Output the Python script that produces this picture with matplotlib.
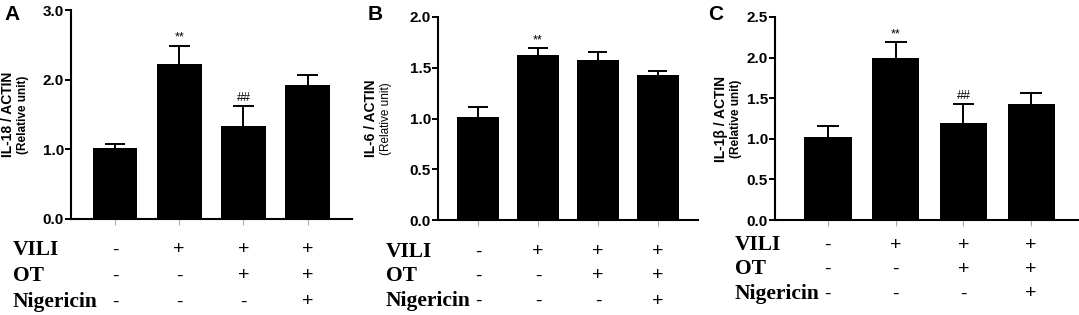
import matplotlib
matplotlib.use('Agg')
from matplotlib import pyplot as plt
from matplotlib.transforms import blended_transform_factory

# group conditions shown under each bar
vili = ['-', '+', '+', '+']
ot = ['-', '-', '+', '+']
nigericin = ['-', '-', '-', '+']
row_names = ['VILI', 'OT', 'Nigericin']

# panel A: IL-18
il18_mean = [1.02, 2.23, 1.34, 1.92]
il18_sem = [0.06, 0.26, 0.28, 0.14]
il18_marks = ['', '**', '##', '']

# panel B: IL-6
il6_mean = [1.01, 1.63, 1.58, 1.43]
il6_sem = [0.10, 0.06, 0.08, 0.04]
il6_marks = ['', '**', '', '']

# panel C: IL-1beta
il1b_mean = [1.02, 2.00, 1.20, 1.43]
il1b_sem = [0.14, 0.19, 0.23, 0.13]
il1b_marks = ['', '**', '##', '']

W, H = 1079, 315
fig = plt.figure(figsize=(W / 100, H / 100), dpi=100)
sans = 'Liberation Sans'
serif = 'Liberation Serif'


def fx(px):
    return px / W


def fy(py):
    return 1 - py / H


def panel(box, means, sems, marks, ymax, step, xlim, letter, letter_xy,
          label, label_x, weights, row_y, row_x):
    left, top, right, bottom = box
    ax = fig.add_axes([fx(left), fy(bottom), fx(right - left), fy(top) - fy(bottom)])
    x = list(range(len(means)))
    tops = [m + s for m, s in zip(means, sems)]
    # upper-only error bars, GraphPad style
    ax.vlines(x, means, tops, color='black', lw=1.4, zorder=1)
    ax.hlines(tops, [xi - 0.16 for xi in x], [xi + 0.16 for xi in x], color='black',
              lw=1.4, zorder=1)
    ax.bar(x, means, width=0.7, color='black', zorder=2)
    for xi, t, mk in zip(x, tops, marks):
        if mk:
            ax.annotate(mk, (xi, t), xytext=(0, 1.5), textcoords='offset points',
                        ha='center', va='bottom', fontsize=9, family=sans)
    ax.set_xlim(*xlim)
    ax.set_ylim(0, ymax)
    ticks = [round(i * step, 2) for i in range(int(round(ymax / step)) + 1)]
    ax.set_yticks(ticks)
    ax.set_yticklabels([f'{t:.1f}' for t in ticks], fontsize=11, fontweight='bold', family=sans)
    ax.set_xticks(x)
    ax.set_xticklabels([])
    for s in ['top', 'right']:
        ax.spines[s].set_visible(False)
    for s in ['left', 'bottom']:
        ax.spines[s].set_linewidth(1.5)
    ax.tick_params(axis='y', length=4, width=1.4, pad=1)
    ax.tick_params(axis='x', length=4, width=0.8, color='#aaaaaa')

    fig.text(fx(letter_xy[0]), fy(letter_xy[1]), letter, fontsize=15, fontweight='bold',
             family=sans, ha='left', va='center')
    cy = fy((top + bottom) / 2)
    fig.text(fx(label_x[0]), cy, label, rotation=90, fontsize=10, fontweight=weights[0],
             family=sans, ha='center', va='center')
    fig.text(fx(label_x[1]), cy, '(Relative unit)', rotation=90, fontsize=8.5,
             fontweight=weights[1], family=sans, ha='center', va='center')

    tr = blended_transform_factory(ax.transData, fig.transFigure)
    for name, signs, py in zip(row_names, [vili, ot, nigericin], row_y):
        fig.text(fx(row_x), fy(py), name, fontsize=15.5, fontweight='bold', family=serif,
                 ha='left', va='center')
        for xi, sg in zip(x, signs):
            ax.text(xi, fy(py), sg, transform=tr, fontsize=14, family=sans,
                    ha='center', va='center')
    return ax


panel((71, 10, 352, 219), il18_mean, il18_sem, il18_marks, 3.0, 1.0, (-0.685, 3.69),
      'A', (4, 15), 'IL-18 / ACTIN', (8, 23), ('bold', 'bold'), (250, 276, 302), 13)
panel((438, 17, 698, 220), il6_mean, il6_sem, il6_marks, 2.0, 0.5, (-0.667, 3.67),
      'B', (368, 15), 'IL-6 / ACTIN', (371, 386), ('bold', 'normal'), (252, 276, 301), 386)
panel((775, 17, 1078, 220), il1b_mean, il1b_sem, il1b_marks, 2.5, 0.5, (-0.78, 3.69),
      'C', (708, 15), 'IL-1β / ACTIN', (721, 736), ('bold', 'bold'), (245, 269, 294), 735)

fig.savefig('out.png', dpi=100)
